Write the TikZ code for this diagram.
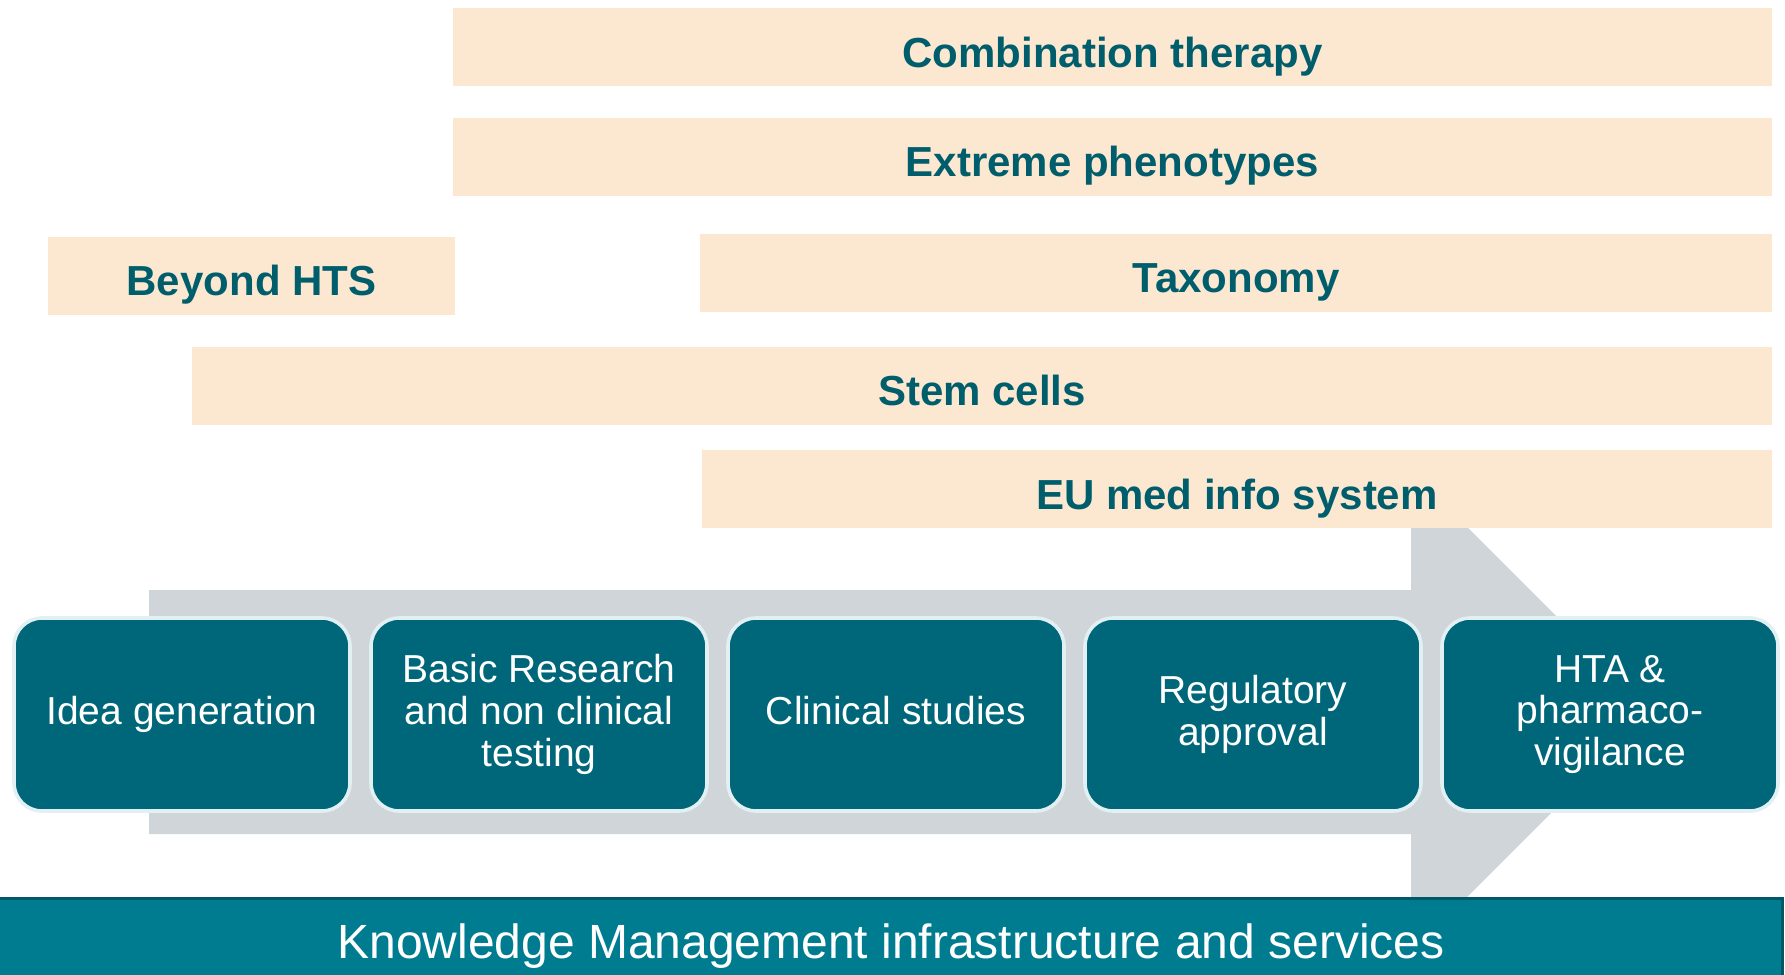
\documentclass[tikz,border=0pt]{standalone}
\usepackage{fontspec}
\setmainfont{Liberation Sans}
\definecolor{peach}{RGB}{252,231,209}
\definecolor{titleteal}{RGB}{0,94,108}
\definecolor{boxteal}{RGB}{0,103,122}
\definecolor{boxedge}{RGB}{226,240,243}
\definecolor{arrowgray}{RGB}{208,213,217}
\definecolor{kmbar}{RGB}{0,124,145}
\definecolor{kmline}{RGB}{0,88,103}
\begin{document}
\begin{tikzpicture}[x=0.5pt,y=-0.5pt,
  topicbar/.style={fill=peach, inner sep=0pt, minimum height=39pt,
    text=titleteal, font=\fontsize{21}{24}\selectfont\bfseries,
    text height=20pt, text depth=0pt},
  stagebox/.style={fill=boxteal, draw=boxedge, line width=1.8pt,
    rounded corners=14pt, minimum width=168pt, minimum height=96.5pt,
    inner sep=0pt, align=center, text=white,
    font=\fontsize{19.5}{20.8}\selectfont},
  kmstyle/.style={fill=kmbar, inner sep=0pt, minimum width=891pt,
    minimum height=38.5pt, text=white, font=\fontsize{24}{28}\selectfont,
    text height=21pt, text depth=0pt}
]
\useasboundingbox (0,0) rectangle (1785,975);
% grey process arrow
\fill[arrowgray] (149,590) -- (1411,590) -- (1411,471) -- (1652,712)
  -- (1411,953) -- (1411,834) -- (149,834) -- cycle;
% topic bars
\node[topicbar, minimum width=659.5pt] (comb) at (1112.5,47) {Combination therapy};
\node[topicbar, minimum width=659.5pt] (ext) at (1112.5,156.5) {Extreme phenotypes};
\node[topicbar, minimum width=203.5pt] (beyond) at (251.5,275.5) {Beyond HTS};
\node[topicbar, minimum width=536pt] (tax) at (1236,272.5) {Taxonomy};
\node[topicbar, minimum width=790pt] (stem) at (982,385.5) {Stem cells};
\node[topicbar, minimum width=535pt] (eu) at (1237,489) {EU med info system};
% stage boxes
\node[stagebox] (idea) at (182,714.5) {Idea generation};
\node[stagebox] (basic) at (539,714.5) {Basic Research\\and non clinical\\testing};
\node[stagebox] (clin) at (896,714.5) {Clinical studies\vphantom{g}};
\node[stagebox] (reg) at (1253,714.5) {Regulatory\\approval};
\node[stagebox] (hta) at (1610,714.5) {HTA \&\\pharmaco-\\vigilance};
% knowledge management bar
\node[kmstyle] (km) at (891,937) {Knowledge Management infrastructure and services};
\draw[kmline, line width=1.5pt] (km.north west) -- (km.north east) -- (km.south east);
\end{tikzpicture}
\end{document}
